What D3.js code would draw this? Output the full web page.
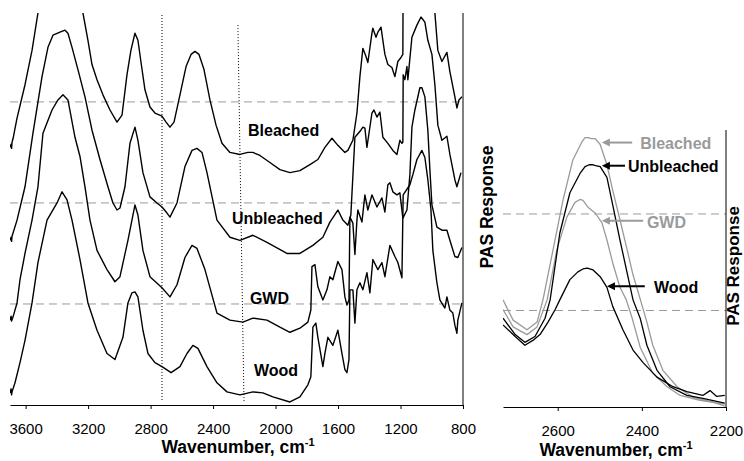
<!DOCTYPE html>
<html><head><meta charset="utf-8">
<script src="https://cdn.jsdelivr.net/npm/d3@7"></script>
<style>html,body{margin:0;padding:0;background:#fff}svg{display:block}</style>
</head><body><div id="chart"></div>
<script>
// ---------- DATA ----------
const leftTicks = [3600, 3200, 2800, 2400, 2000, 1600, 1200, 800];
const rightTicks = [2600, 2400, 2200];
const leftGrid = [1, 2, 3];
const rightGrid = [1, 2];
const sampleNames = ["Bleached", "Unbleached", "GWD", "Wood"];

// Left panel: full spectra [wavenumber, PAS response (offset units)]
const bleachedFull = [[3700,2.55],[3693,2.58],[3690,2.54],[3687,2.60],[3680,2.64],[3670,2.72],[3655,2.84],[3604,3.17],[3559,3.51],[3521,3.88],[3457,4.26],[3380,4.46],[3316,4.31],[3233,3.88],[3201,3.61],[3175,3.37],[3143,3.22],[3105,3.07],[3060,2.92],[3015,2.80],[2983,2.87],[2951,3.27],[2926,3.51],[2900,3.68],[2881,3.61],[2862,3.40],[2836,3.12],[2804,2.95],[2772,2.89],[2727,2.86],[2701,2.80],[2676,2.75],[2650,2.80],[2612,3.07],[2573,3.35],[2541,3.47],[2516,3.50],[2490,3.47],[2458,3.32],[2420,3.02],[2381,2.77],[2343,2.59],[2292,2.50],[2228,2.48],[2177,2.50],[2145,2.50],[2100,2.47],[2036,2.40],[1972,2.33],[1908,2.30],[1844,2.32],[1780,2.38],[1729,2.43],[1684,2.55],[1639,2.64],[1601,2.57],[1556,2.50],[1537,2.52],[1505,2.62],[1479,2.89],[1460,3.25],[1441,3.53],[1421,3.45],[1409,3.39],[1383,3.68],[1377,3.73],[1357,3.64],[1345,3.69],[1325,3.74],[1313,3.61],[1300,3.47],[1281,3.37],[1255,3.34],[1236,3.25],[1217,3.40],[1197,3.44],[1185,3.47],[1183,4.40],[1140,4.55],[1069,4.75],[1012,4.45],[980,3.88],[961,3.51],[935,3.40],[903,3.49],[884,3.30],[852,3.05],[839,2.94],[826,3.02],[807,3.05]];
const unbleachedFull = [[3700,1.63],[3693,1.66],[3690,1.62],[3687,1.67],[3655,1.83],[3604,2.16],[3553,2.69],[3495,3.25],[3457,3.54],[3425,3.66],[3380,3.69],[3348,3.71],[3329,3.68],[3303,3.54],[3265,3.32],[3220,3.05],[3175,2.72],[3124,2.43],[3073,2.16],[3041,2.00],[3015,1.93],[2996,1.95],[2964,2.16],[2932,2.59],[2900,2.75],[2881,2.62],[2849,2.30],[2804,2.06],[2759,2.00],[2727,1.96],[2695,1.90],[2676,1.86],[2631,2.00],[2580,2.36],[2535,2.52],[2503,2.54],[2471,2.50],[2439,2.30],[2375,1.83],[2292,1.66],[2228,1.63],[2145,1.68],[2055,1.61],[1927,1.50],[1844,1.50],[1761,1.58],[1697,1.66],[1652,1.81],[1601,1.93],[1569,1.83],[1537,1.78],[1518,1.88],[1492,2.65],[1454,2.72],[1441,2.75],[1428,2.74],[1415,2.55],[1383,2.89],[1370,2.92],[1351,2.85],[1332,2.90],[1313,2.65],[1281,2.59],[1249,2.52],[1223,2.48],[1204,2.62],[1191,2.59],[1185,2.60],[1183,3.27],[1172,3.22],[1159,3.35],[1153,3.22],[1127,3.64],[1095,3.76],[1069,3.84],[1044,3.79],[1025,3.61],[999,3.47],[980,3.17],[961,2.77],[935,2.62],[903,2.66],[884,2.48],[852,2.23],[839,2.16],[813,2.30]];
const gwdFull = [[3700,0.84],[3693,0.88],[3690,0.83],[3681,0.87],[3655,1.01],[3636,1.24],[3604,1.50],[3559,1.83],[3521,2.16],[3489,2.69],[3431,2.92],[3393,3.02],[3361,3.07],[3329,3.02],[3284,2.65],[3252,2.46],[3220,2.16],[3188,1.83],[3143,1.53],[3079,1.34],[3028,1.22],[2996,1.27],[2945,1.63],[2900,1.98],[2881,1.88],[2849,1.53],[2804,1.27],[2727,1.16],[2676,1.07],[2631,1.19],[2580,1.46],[2535,1.58],[2503,1.55],[2452,1.34],[2375,0.91],[2292,0.84],[2209,0.82],[2145,0.86],[2055,0.84],[1972,0.77],[1908,0.72],[1844,0.76],[1793,0.82],[1774,0.94],[1767,1.37],[1748,1.39],[1729,1.17],[1697,1.04],[1671,1.14],[1652,1.27],[1633,1.24],[1601,1.42],[1575,1.34],[1556,1.07],[1543,0.99],[1530,1.04],[1524,1.86],[1505,1.80],[1492,1.49],[1479,1.83],[1473,1.93],[1447,1.81],[1428,2.08],[1409,1.93],[1383,2.08],[1351,1.96],[1319,2.05],[1300,1.91],[1281,2.18],[1268,2.20],[1249,2.11],[1223,2.08],[1204,2.10],[1185,1.85],[1159,1.93],[1140,2.28],[1127,2.75],[1108,2.92],[1076,3.14],[1063,3.14],[1044,3.05],[1025,2.72],[1012,2.33],[999,1.98],[967,1.76],[935,1.73],[903,1.73],[884,1.63],[852,1.47],[833,1.46],[807,1.56]];
const woodFull = [[3700,0.12],[3693,0.16],[3690,0.10],[3687,0.13],[3668,0.22],[3636,0.42],[3604,0.64],[3559,1.01],[3521,1.41],[3463,1.83],[3399,2.00],[3367,2.11],[3335,2.03],[3303,1.83],[3252,1.44],[3201,1.01],[3143,0.74],[3079,0.51],[3028,0.45],[2977,0.67],[2945,1.01],[2919,1.11],[2900,1.12],[2881,1.07],[2849,0.74],[2817,0.51],[2772,0.42],[2727,0.38],[2669,0.32],[2612,0.38],[2567,0.51],[2529,0.59],[2497,0.56],[2439,0.38],[2375,0.22],[2311,0.13],[2228,0.10],[2145,0.13],[2081,0.12],[2017,0.08],[1908,0.03],[1844,0.08],[1793,0.20],[1774,0.28],[1761,0.77],[1742,0.81],[1729,0.67],[1697,0.38],[1684,0.51],[1665,0.67],[1633,0.59],[1601,0.74],[1575,0.51],[1556,0.35],[1543,0.32],[1530,0.45],[1524,1.14],[1505,1.14],[1492,0.81],[1479,1.14],[1460,1.21],[1441,1.14],[1415,1.31],[1396,1.11],[1377,1.44],[1345,1.34],[1319,1.41],[1300,1.27],[1268,1.58],[1236,1.47],[1217,1.41],[1191,1.26],[1183,2.08],[1140,2.18],[1121,2.28],[1095,2.43],[1063,2.52],[1044,2.45],[1025,2.23],[1005,1.93],[993,1.53],[967,1.21],[948,1.04],[916,0.96],[903,1.07],[884,0.94],[865,0.91],[852,0.79],[839,0.71],[833,0.84],[807,1.01]];

// Right panel: zoom of 2730-2200 cm-1 band
const bleachedZoom = [[2730,1.11],[2706,0.90],[2673,0.80],[2649,0.88],[2635,1.11],[2611,1.63],[2587,2.15],[2564,2.56],[2542,2.75],[2535,2.79],[2528,2.79],[2520,2.78],[2511,2.78],[2499,2.72],[2483,2.51],[2469,2.24],[2452,1.94],[2435,1.63],[2421,1.37],[2404,1.12],[2388,0.88],[2374,0.64],[2350,0.38],[2316,0.21],[2278,0.10],[2231,0.05],[2203,0.01]];
const unbleachedZoom = [[2730,0.92],[2701,0.75],[2678,0.67],[2654,0.73],[2630,0.92],[2618,1.11],[2595,1.80],[2571,2.22],[2547,2.42],[2535,2.49],[2525,2.51],[2518,2.51],[2510,2.50],[2499,2.49],[2483,2.38],[2469,2.09],[2452,1.73],[2435,1.39],[2421,1.11],[2404,0.92],[2388,0.64],[2364,0.38],[2333,0.21],[2293,0.12],[2255,0.09],[2203,0.04]];
const gwdZoom = [[2730,1.01],[2706,0.83],[2673,0.75],[2649,0.83],[2625,1.11],[2602,1.63],[2578,1.97],[2559,2.12],[2547,2.15],[2540,2.14],[2528,2.07],[2511,2.01],[2495,1.91],[2483,1.73],[2469,1.49],[2452,1.24],[2437,1.11],[2423,0.92],[2404,0.62],[2374,0.35],[2340,0.21],[2309,0.12],[2262,0.07],[2203,0.03]];
const woodZoom = [[2730,0.85],[2701,0.73],[2678,0.64],[2659,0.69],[2642,0.75],[2623,0.88],[2606,1.01],[2595,1.11],[2571,1.32],[2552,1.40],[2540,1.43],[2530,1.44],[2516,1.42],[2499,1.35],[2483,1.24],[2469,1.04],[2445,0.80],[2421,0.59],[2397,0.46],[2364,0.31],[2326,0.21],[2293,0.16],[2255,0.12],[2238,0.17],[2222,0.11],[2203,0.12]];

// Marker lines on the left panel showing the zoomed range
const markerLines = [{w1: 2727, v1: 3.86, w2: 2727, v2: 0.03}, {w1: 2241, v1: 3.76, w2: 2202, v2: 0.03}];

// Annotations
const leftLabels = [
  {text: "Bleached", w: 2176, v: 2.66},
  {text: "Unbleached", w: 2279, v: 1.79},
  {text: "GWD", w: 2164, v: 1.00},
  {text: "Wood", w: 2138, v: 0.29}
];
const rightLabels = [
  {text: "Bleached", tip: 2495, tail: 2423, textW: 2404, arrowV: 2.74, textV: 2.67, gray: true},
  {text: "Unbleached", tip: 2495, tail: 2440, textW: 2433, arrowV: 2.50, textV: 2.44, gray: false},
  {text: "GWD", tip: 2495, tail: 2397, textW: 2388, arrowV: 1.93, textV: 1.85, gray: true},
  {text: "Wood", tip: 2483, tail: 2393, textW: 2371, arrowV: 1.25, textV: 1.18, gray: false}
];

// ---------- DRAW ----------
const FONT = '"Liberation Sans", Arial, Helvetica, sans-serif';
const GRAY = "#9a9a9a";
const W = 744, H = 461;
const svg = d3.select("#chart").append("svg").attr("width", W).attr("height", H)
  .style("font-family", FONT);
svg.append("rect").attr("width", W).attr("height", H).attr("fill", "#fff");

const L = {x0: 10, x1: 463, y0: 13, y1: 405};
const R = {x0: 503, x1: 726, y0: 130, y1: 407};

const xL = d3.scaleLinear().domain([3700, 800]).range([L.x0, L.x1]);
const yL = d3.scaleLinear().domain([0, 3.88]).range([L.y1, L.y0]);
const xR = d3.scaleLinear().domain([2730, 2200]).range([R.x0, R.x1]);
const yR = d3.scaleLinear().domain([0, 2.87]).range([R.y1, R.y0]);

const defs = svg.append("defs");
defs.append("clipPath").attr("id", "clipL").append("rect")
  .attr("x", L.x0).attr("y", L.y0).attr("width", L.x1 - L.x0).attr("height", L.y1 - L.y0);
defs.append("clipPath").attr("id", "clipR").append("rect")
  .attr("x", R.x0).attr("y", R.y0).attr("width", R.x1 - R.x0).attr("height", R.y1 - R.y0);

// gridlines
svg.append("g").selectAll("line").data(leftGrid).join("line")
  .attr("x1", L.x0).attr("x2", L.x1).attr("y1", d => yL(d)).attr("y2", d => yL(d))
  .attr("stroke", GRAY).attr("stroke-width", 1).attr("stroke-dasharray", "8,5");
svg.append("g").selectAll("line").data(rightGrid).join("line")
  .attr("x1", R.x0).attr("x2", R.x1).attr("y1", d => yR(d)).attr("y2", d => yR(d))
  .attr("stroke", GRAY).attr("stroke-width", 1).attr("stroke-dasharray", "8,5");

// marker dotted lines
svg.append("g").selectAll("line").data(markerLines).join("line")
  .attr("x1", d => xL(d.w1)).attr("y1", d => yL(d.v1)).attr("x2", d => xL(d.w2)).attr("y2", d => yL(d.v2))
  .attr("stroke", "#000").attr("stroke-width", 1).attr("stroke-dasharray", "1,2");

// left spectra
const lineL = d3.line().x(d => xL(d[0])).y(d => yL(d[1]));
const gL = svg.append("g").attr("clip-path", "url(#clipL)");
[bleachedFull, unbleachedFull, gwdFull, woodFull].forEach(s => {
  gL.append("path").datum(s).attr("d", lineL).attr("fill", "none")
    .attr("stroke", "#000").attr("stroke-width", 1.4).attr("stroke-linejoin", "round");
});

// right spectra
const lineR = d3.line().x(d => xR(d[0])).y(d => yR(d[1]));
const gR = svg.append("g").attr("clip-path", "url(#clipR)");
const zoomSeries = [
  {data: bleachedZoom, color: GRAY},
  {data: gwdZoom, color: GRAY},
  {data: unbleachedZoom, color: "#000"},
  {data: woodZoom, color: "#000"}
];
zoomSeries.forEach(s => {
  gR.append("path").datum(s.data).attr("d", lineR).attr("fill", "none")
    .attr("stroke", s.color).attr("stroke-width", 1.3).attr("stroke-linejoin", "round");
});

// axes
function styleAxis(g) {
  g.selectAll("path.domain").attr("stroke", "#000").attr("stroke-width", 1);
  g.selectAll(".tick line").attr("stroke", "#000");
  g.selectAll(".tick text").attr("font-family", FONT).attr("font-size", 15).attr("fill", "#000");
}
const axL = svg.append("g").attr("transform", `translate(0,${L.y1})`)
  .call(d3.axisBottom(xL).tickValues(leftTicks).tickSize(4).tickSizeOuter(0).tickPadding(14).tickFormat(d3.format("d")));
styleAxis(axL);
const axR = svg.append("g").attr("transform", `translate(0,${R.y1})`)
  .call(d3.axisBottom(xR).tickValues(rightTicks).tickSize(4).tickSizeOuter(0).tickPadding(14).tickFormat(d3.format("d")));
styleAxis(axR);

// right boundary lines
svg.append("line").attr("x1", L.x1).attr("x2", L.x1).attr("y1", L.y0).attr("y2", L.y1)
  .attr("stroke", "#000").attr("stroke-width", 1);
svg.append("line").attr("x1", R.x1).attr("x2", R.x1).attr("y1", R.y0).attr("y2", R.y1)
  .attr("stroke", "#000").attr("stroke-width", 1);

// axis titles
function xTitle(cx, y) {
  const t = svg.append("text").attr("x", cx).attr("y", y).attr("text-anchor", "middle")
    .attr("font-size", 17.5).attr("font-weight", "bold").attr("fill", "#000");
  t.append("tspan").text("Wavenumber, cm");
  t.append("tspan").attr("font-size", 11).attr("dy", -7).text("-1");
}
xTitle(238, 453);
xTitle(616, 456);

function yTitle(x, cy, size) {
  svg.append("text").attr("transform", `translate(${x},${cy}) rotate(-90)`)
    .attr("text-anchor", "middle").attr("font-size", size).attr("font-weight", "bold")
    .attr("fill", "#000").text("PAS Response");
}
yTitle(493, 207, 17.5);
yTitle(739, 266, 17);

// left labels
svg.append("g").selectAll("text").data(leftLabels).join("text")
  .attr("x", d => xL(d.w)).attr("y", d => yL(d.v))
  .attr("font-size", 16).attr("font-weight", "bold").attr("fill", "#000").text(d => d.text);

// right labels with arrows
rightLabels.forEach(d => {
  const c = d.gray ? GRAY : "#000";
  const tx = xR(d.tip), ty = yR(d.arrowV), ex = xR(d.tail);
  svg.append("line").attr("x1", ex).attr("x2", tx + 6).attr("y1", ty).attr("y2", ty)
    .attr("stroke", c).attr("stroke-width", 2);
  svg.append("path").attr("d", `M${tx},${ty} L${tx + 8},${ty - 4} L${tx + 8},${ty + 4} Z`).attr("fill", c);
  svg.append("text").attr("x", xR(d.textW)).attr("y", yR(d.textV))
    .attr("font-size", 16).attr("font-weight", "bold").attr("fill", c).text(d.text);
});
</script>
</body></html>
